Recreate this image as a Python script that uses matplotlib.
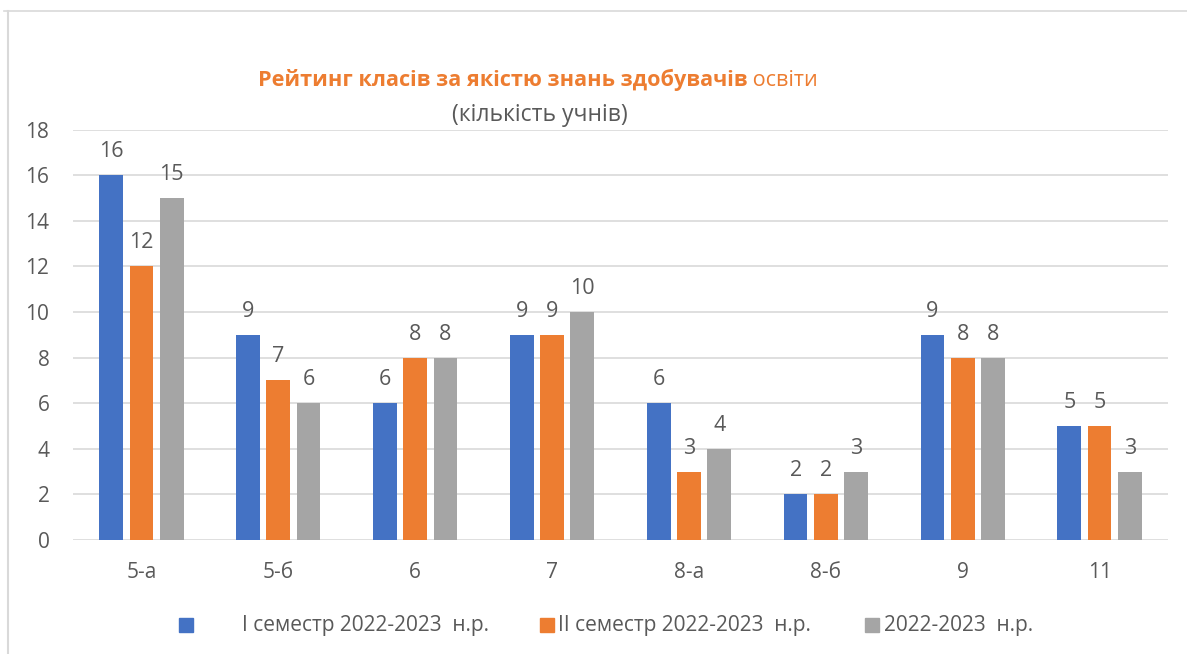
import matplotlib
matplotlib.use("Agg")
import matplotlib.pyplot as plt
from matplotlib.patches import Rectangle
from matplotlib.lines import Line2D
import numpy as np

categories = ["5-а", "5-б", "6", "7", "8-а", "8-б", "9", "11"]
sem1 = [16, 9, 6, 9, 6, 2, 9, 5]
sem2 = [12, 7, 8, 9, 3, 2, 8, 5]
year = [15, 6, 8, 10, 4, 3, 8, 3]
series_names = ["I семестр 2022-2023  н.р.", "II семестр 2022-2023  н.р.", "2022-2023  н.р."]
colors = ["#4472C4", "#ED7D31", "#A5A5A5"]
yticks = [0, 2, 4, 6, 8, 10, 12, 14, 16, 18]

FAM = ["Open Sans", "DejaVu Sans"]
plt.rcParams['font.family'] = FAM
TXT = "#595959"

W, H = 1187, 654
fig = plt.figure(figsize=(W / 100, H / 100), dpi=100)
ax = fig.add_axes([73 / W, 1 - 540 / H, (1168 - 73) / W, (540 - 129.5) / H])

x = np.arange(len(categories))
step = 0.221
bw = 0.173
for i, (vals, c) in enumerate(zip([sem1, sem2, year], colors)):
    xs = x + (i - 1) * step
    ax.bar(xs, vals, width=bw, color=c, zorder=3)
    for xi, v in zip(xs, vals):
        ax.annotate(str(v), (xi, v), xytext=(0, 13), textcoords="offset points",
                    ha="center", va="baseline", fontsize=15.5, color=TXT)

ax.set_xlim(-0.5, len(categories) - 0.5)
ax.set_ylim(0, 18)
ax.set_yticks(yticks)
ax.set_xticks(x)
ax.set_xticklabels(categories)
ax.tick_params(axis="both", length=0, labelsize=15, labelcolor=TXT)
ax.tick_params(axis="y", pad=17)
ax.tick_params(axis="x", pad=16)
for s in ax.spines.values():
    s.set_visible(False)
ax.grid(axis="y", color="#D9D9D9", lw=1.2, zorder=0)
ax.set_axisbelow(True)

# frame lines
fig.add_artist(Line2D([4 / W, 1], [1 - 11 / H] * 2, color="#D9D9D9", lw=1.2, transform=fig.transFigure))
fig.add_artist(Line2D([8 / W] * 2, [0, 1 - 11 / H], color="#D9D9D9", lw=1.5, transform=fig.transFigure))

# title
t1 = fig.text(0, 1 - 80 / H, "Рейтинг класів за якістю знань здобувачів", fontsize=15.6,
              fontweight="bold", color="#ED7D31", va="center", ha="left")
t2 = fig.text(0, 1 - 80 / H, " освіти", fontsize=15.6, color="#ED7D31", va="center", ha="left")
fig.text(540 / W, 1 - 115 / H, "(кількість учнів)", fontsize=16.5, color=TXT, va="center", ha="center")
fig.canvas.draw()
r = fig.canvas.get_renderer()
w1 = t1.get_window_extent(r).width
w2 = t2.get_window_extent(r).width
start = 538 - (w1 + w2) / 2
t1.set_x(start / W)
t2.set_x((start + w1) / W)

# legend
sq = [179, 540, 865]
tx = [242, 558, 884]
for s, t, name, c in zip(sq, tx, series_names, colors):
    fig.add_artist(Rectangle((s / W, 1 - 632 / H), 14 / W, 14 / H, color=c, transform=fig.transFigure))
    fig.text(t / W, 1 - 625 / H, name, fontsize=15, color=TXT, va="center", ha="left")

fig.savefig("out.png", dpi=100)
